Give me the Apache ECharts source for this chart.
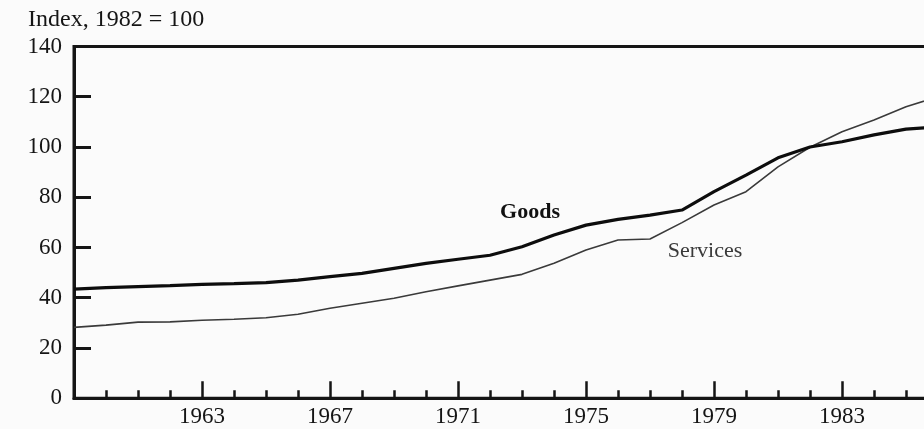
<!DOCTYPE html>
<html>
<head>
<meta charset="utf-8">
<script src="https://cdn.jsdelivr.net/npm/echarts@6/dist/echarts.min.js"></script>
<style>
html,body{margin:0;padding:0;background:#fbfbfb;}
#c{width:924px;height:429px;}
</style>
</head>
<body>
<div id="c"></div>
<script>
const years = ['1959','1960','1961','1962','1963','1964','1965','1966','1967','1968','1969','1970','1971','1972','1973','1974','1975','1976','1977','1978','1979','1980','1981','1982','1983','1984','1985','1986'];
const goods = [43.4,44.0,44.4,44.8,45.3,45.6,46.0,47.0,48.4,49.7,51.7,53.7,55.3,56.9,60.3,65.0,68.9,71.2,72.9,74.9,82.2,88.8,95.7,100.0,102.1,104.8,107.1,108.0];
const services = [28.2,29.1,30.3,30.4,31.0,31.4,32.0,33.4,35.8,37.8,39.8,42.4,44.7,47.0,49.3,53.7,59.0,63.0,63.4,69.9,76.9,82.2,92.1,99.9,106.1,110.7,116.0,120.0];
const yTicks = {min: 0, max: 140, interval: 20};
const labeledYears = ['1963','1967','1971','1975','1979','1983'];
const unitTitle = 'Index, 1982 = 100';
const goodsName = 'Goods';
const servicesName = 'Services';
const goodsLabelYear = '1973';
const servicesLabelYear = '1979';

const FONT = '"Liberation Serif", "DejaVu Serif", serif';
const INK = '#151515';

const isMajor = (i, v) => labeledYears.indexOf(String(v)) >= 0;

function withLabel(values, yearKey, text, opts) {
  return values.map((v, i) => {
    if (years[i] !== yearKey) return v;
    return {value: v, label: Object.assign({show: true, formatter: text, fontFamily: FONT}, opts)};
  });
}

const chart = echarts.init(document.getElementById('c'), null, {renderer: 'canvas'});
chart.setOption({
  backgroundColor: '#fbfbfb',
  animation: false,
  title: {
    text: unitTitle,
    left: 28, top: 8, padding: 0,
    textStyle: {fontFamily: FONT, fontSize: 24, fontWeight: 'normal', color: INK}
  },
  grid: {
    left: 74, top: 46.5, width: 864, height: 351.7,
    containLabel: false,
    outerBoundsMode: 'none',
    show: true, borderColor: INK, borderWidth: 3, backgroundColor: 'transparent'
  },
  xAxis: [
    {
      type: 'category', data: years, boundaryGap: false, position: 'bottom',
      axisLine: {show: true, lineStyle: {color: INK, width: 3}},
      axisTick: {show: true, inside: true, length: 8, interval: 0, lineStyle: {color: INK, width: 2.5}},
      axisLabel: {show: false},
      splitLine: {show: false}
    },
    {
      type: 'category', data: years, boundaryGap: false, position: 'bottom',
      axisLine: {show: false},
      axisTick: {show: true, inside: true, length: 17, interval: isMajor, lineStyle: {color: INK, width: 2.5}},
      axisLabel: {show: true, interval: isMajor, margin: 7, fontFamily: FONT, fontSize: 23, color: INK},
      splitLine: {show: false}
    }
  ],
  yAxis: {
    type: 'value', min: yTicks.min, max: yTicks.max, interval: yTicks.interval,
    axisLine: {show: true, lineStyle: {color: INK, width: 3}},
    axisTick: {show: true, inside: true, length: 17, lineStyle: {color: INK, width: 3}},
    axisLabel: {show: true, margin: 12, fontFamily: FONT, fontSize: 23, color: INK},
    splitLine: {show: false}
  },
  series: [
    {
      name: goodsName, type: 'line', xAxisIndex: 0,
      data: withLabel(goods, goodsLabelYear, goodsName,
        {position: 'top', distance: 23, offset: [8, 0], fontSize: 22, fontWeight: 'bold', color: '#111'}),
      symbol: 'circle', symbolSize: 0, showSymbol: true, showAllSymbol: true,
      lineStyle: {color: '#0d0d0d', width: 3.2},
      itemStyle: {color: '#0d0d0d'},
      z: 3
    },
    {
      name: servicesName, type: 'line', xAxisIndex: 0,
      data: withLabel(services, servicesLabelYear, servicesName,
        {position: 'bottom', distance: 35, offset: [-9, 0], fontSize: 22, color: '#3a3a3a'}),
      symbol: 'circle', symbolSize: 0, showSymbol: true, showAllSymbol: true,
      lineStyle: {color: '#3a3a3a', width: 1.6},
      itemStyle: {color: '#3a3a3a'},
      z: 2
    }
  ]
});
</script>
</body>
</html>
